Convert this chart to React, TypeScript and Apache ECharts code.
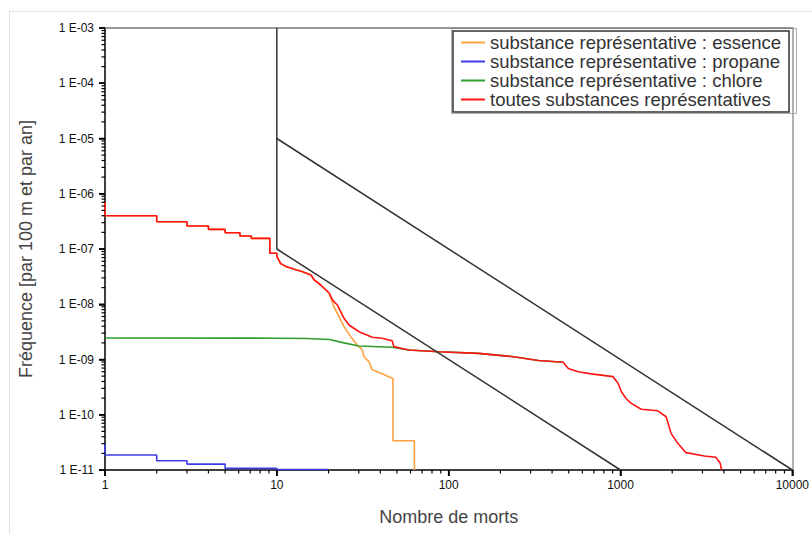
import React, { useEffect, useRef } from 'react';
import * as echarts from 'echarts';

// ---- data ----
const seriesNames = [
  'substance représentative : essence',
  'substance représentative : propane',
  'substance représentative : chlore',
  'toutes substances représentatives',
];

const toutesData: number[][] = [
  [1, 7.1e-7], [1, 4.0e-7], [2, 4.0e-7], [2, 3.12e-7], [3, 3.12e-7], [3, 2.61e-7],
  [4, 2.61e-7], [4, 2.27e-7], [5, 2.27e-7], [5, 1.97e-7], [6.1, 1.97e-7], [6.1, 1.72e-7],
  [7.1, 1.72e-7], [7.1, 1.56e-7], [9.1, 1.56e-7], [9.1, 8.4e-8], [10, 8.4e-8], [10, 7.3e-8],
  [10.3, 6.2e-8], [10.5, 5.5e-8], [11.3, 4.8e-8], [12.9, 4.2e-8], [14, 3.9e-8], [15.8, 3.4e-8],
  [16.5, 2.75e-8], [18, 2.23e-8], [20.2, 1.58e-8], [21.1, 1.19e-8], [22.5, 9.7e-9],
  [24.6, 5.57e-9], [26.3, 4.21e-9], [30.1, 3.18e-9], [35.9, 2.52e-9], [41, 2.42e-9],
  [46.9, 2.19e-9], [48, 1.71e-9], [58.6, 1.49e-9], [87.5, 1.38e-9], [149, 1.29e-9],
  [233, 1.13e-9], [333, 9.6e-10], [464, 8.9e-10], [497, 6.9e-10], [567, 6.0e-10],
  [677, 5.5e-10], [905, 4.89e-10], [968, 3.71e-10], [1012, 2.6e-10], [1080, 1.95e-10],
  [1156, 1.61e-10], [1321, 1.26e-10], [1649, 1.18e-10], [1843, 9.2e-11], [1971, 4.6e-11],
  [2155, 3.04e-11], [2406, 2.06e-11], [3074, 1.79e-11], [3591, 1.7e-11], [3808, 1.32e-11],
  [3873, 1e-11],
];

const essenceData: number[][] = [
  [1, 7.1e-7], [1, 4.0e-7], [2, 4.0e-7], [2, 3.12e-7], [3, 3.12e-7], [3, 2.61e-7],
  [4, 2.61e-7], [4, 2.27e-7], [5, 2.27e-7], [5, 1.97e-7], [6.1, 1.97e-7], [6.1, 1.72e-7],
  [7.1, 1.72e-7], [7.1, 1.56e-7], [9.1, 1.56e-7], [9.1, 8.4e-8], [10, 8.4e-8], [10, 7.3e-8],
  [10.3, 6.2e-8], [10.5, 5.5e-8], [11.3, 4.8e-8], [12.9, 4.2e-8], [14, 3.9e-8], [15.8, 3.4e-8],
  [16.5, 2.75e-8], [18, 2.23e-8], [20.2, 1.58e-8], [21.5, 9.0e-9], [23, 5.96e-9],
  [24.6, 3.93e-9], [26.9, 2.59e-9], [29.4, 1.83e-9], [31.4, 1.49e-9], [32.2, 1.12e-9],
  [34.4, 9.1e-10], [35.9, 6.5e-10], [41, 5.5e-10], [46.9, 4.57e-10], [47.4, 4.57e-10],
  [47.4, 3.39e-11], [63.2, 3.39e-11], [63.2, 1e-11],
];

const propaneData: number[][] = [
  [1, 3.0e-11], [1, 1.87e-11], [2, 1.87e-11], [2, 1.47e-11], [3, 1.47e-11], [3, 1.28e-11],
  [5, 1.28e-11], [5, 1.07e-11], [10, 1.07e-11], [10, 1.02e-11], [20, 1.02e-11],
];

const chloreData: number[][] = [
  [1, 2.45e-9], [10, 2.43e-9], [15, 2.4e-9], [20.2, 2.3e-9], [24.6, 2.0e-9], [30, 1.75e-9],
  [46.9, 1.67e-9], [58.6, 1.49e-9], [87.5, 1.38e-9], [149, 1.29e-9], [233, 1.13e-9],
  [333, 9.6e-10], [464, 8.9e-10],
];

// acceptability limits (black lines)
const limitLowerData: number[][] = [[10, 1e-3], [10, 1e-7], [1000, 1e-11]];
const limitUpperData: number[][] = [[10, 1e-5], [10000, 1e-11]];

const xMin = 1;
const xMax = 10000;
const yMin = 1e-11;
const yMax = 1e-3;

const colors = ['#ffa040', '#3b3be6', '#2f9e2f', '#ff1414'];

function decadeTicks(lo: number, hi: number): { v: number; major: boolean }[] {
  const out: { v: number; major: boolean }[] = [];
  for (let d = lo; d < hi * 0.999; d *= 10) {
    out.push({ v: d, major: true });
    for (let k = 2; k <= 9; k++) out.push({ v: d * k, major: false });
  }
  out.push({ v: hi, major: true });
  return out;
}

export default function App() {
  const ref = useRef<HTMLDivElement>(null);

  useEffect(() => {
    if (!ref.current) return;
    const chart = echarts.init(ref.current, undefined, { renderer: 'svg' });
    const font = '"Liberation Sans", Arial, Helvetica, sans-serif';

    const lineSeries = (name: string, data: number[][], color: string, z: number) => ({
      name,
      type: 'line',
      data,
      symbol: 'none',
      showSymbol: false,
      z,
      lineStyle: { color, width: 1.6 },
      itemStyle: { color },
    });

    const frameAxis = (color: string) => ({
      type: 'log',
      axisLine: { show: true, lineStyle: { color, width: 1.5 } },
      axisTick: { show: false },
      axisLabel: { show: false },
      splitLine: { show: false },
    });

    chart.setOption({
      animation: false,
      backgroundColor: 'transparent',
      grid: { left: 105, right: 17, top: 28, bottom: 64 },
      legend: {
        data: seriesNames,
        orient: 'vertical',
        left: 453,
        top: 31,
        icon: 'rect',
        itemWidth: 24,
        itemHeight: 2,
        itemGap: 0,
        padding: [2, 8, 3, 8],
        borderColor: '#333',
        borderWidth: 1.5,
        backgroundColor: '#fff',
        textStyle: { fontFamily: font, fontSize: 18.5, color: '#333', lineHeight: 18.7 },
      },
      xAxis: [
        {
          type: 'log',
          min: xMin,
          max: xMax,
          splitNumber: 4,
          position: 'bottom',
          name: 'Nombre de morts',
          nameLocation: 'middle',
          nameGap: 38,
          nameTextStyle: { fontFamily: font, fontSize: 18, color: '#444' },
          axisLine: { show: true, lineStyle: { color: '#000', width: 1.5 } },
          axisTick: { show: true, length: 6, lineStyle: { color: '#000', width: 1.5 } },
          axisLabel: {
            margin: 9,
            fontFamily: font,
            fontSize: 12,
            color: '#111',
            formatter: (v: number) => String(Math.round(v)),
          },
          splitLine: { show: false },
        },
        { ...frameAxis('#777'), min: xMin, max: xMax, position: 'top' },
      ],
      yAxis: [
        {
          type: 'log',
          min: yMin,
          max: yMax,
          splitNumber: 8,
          position: 'left',
          name: 'Fréquence [par 100 m et par an]',
          nameLocation: 'middle',
          nameGap: 70,
          nameTextStyle: { fontFamily: font, fontSize: 18, color: '#444' },
          axisLine: { show: true, lineStyle: { color: '#000', width: 1.5 } },
          axisTick: { show: true, length: 6, lineStyle: { color: '#000', width: 1.5 } },
          axisLabel: {
            margin: 11,
            fontFamily: font,
            fontSize: 12,
            color: '#111',
            formatter: (v: number) => {
              const e = Math.round(-Math.log10(v));
              return '1 E-' + String(e).padStart(2, '0');
            },
          },
          splitLine: { show: false },
        },
        { ...frameAxis('#999'), min: yMin, max: yMax, position: 'right' },
      ],
      series: [
        lineSeries(seriesNames[0], essenceData, colors[0], 2),
        lineSeries(seriesNames[1], propaneData, colors[1], 3),
        lineSeries(seriesNames[2], chloreData, colors[2], 4),
        lineSeries(seriesNames[3], toutesData, colors[3], 5),
        {
          name: 'limite basse',
          type: 'line',
          data: limitLowerData,
          symbol: 'none',
          z: 6,
          lineStyle: { color: '#333', width: 1.5 },
        },
        {
          name: 'limite haute',
          type: 'line',
          data: limitUpperData,
          symbol: 'none',
          z: 6,
          lineStyle: { color: '#333', width: 1.5 },
        },
      ],
    });

    // Tick marks (major + minor, log-spaced) placed through the chart's own scales.
    const finder = { xAxisIndex: 0, yAxisIndex: 0 };
    const tickEls: any[] = [];
    decadeTicks(xMin, xMax).forEach(({ v, major }) => {
      const p = chart.convertToPixel(finder, [v, yMin]) as number[];
      if (!p || !isFinite(p[0])) return;
      tickEls.push({
        type: 'line',
        silent: true,
        z: 100,
        shape: { x1: p[0], y1: p[1], x2: p[0], y2: p[1] + (major ? 6 : 3.5) },
        style: { stroke: '#000', lineWidth: major ? 1.5 : 1.2 },
      });
    });
    decadeTicks(yMin, yMax).forEach(({ v, major }) => {
      const p = chart.convertToPixel(finder, [xMin, v]) as number[];
      if (!p || !isFinite(p[1])) return;
      tickEls.push({
        type: 'line',
        silent: true,
        z: 100,
        shape: { x1: p[0], y1: p[1], x2: p[0] - (major ? 6 : 3.5), y2: p[1] },
        style: { stroke: '#000', lineWidth: major ? 1.5 : 1.2 },
      });
    });
    chart.setOption({ graphic: tickEls });

    return () => {
      chart.dispose();
    };
  }, []);

  return (
    <div
      style={{
        position: 'absolute',
        left: 0,
        top: 0,
        width: 812,
        height: 534,
        overflow: 'hidden',
        background: '#fff',
      }}
    >
      <div
        style={{
          position: 'absolute',
          left: 9,
          top: 11,
          width: 820,
          height: 540,
          borderLeft: '1.5px solid #e2e2e2',
          borderTop: '1.5px solid #e2e2e2',
        }}
      />
      <div
        style={{
          position: 'absolute',
          left: 451,
          top: 28,
          width: 344,
          height: 84,
          border: '1px solid #b0b0b0',
        }}
      />
      <div
        ref={ref}
        style={{ position: 'absolute', left: 0, top: 0, width: 812, height: 534 }}
      />
    </div>
  );
}
